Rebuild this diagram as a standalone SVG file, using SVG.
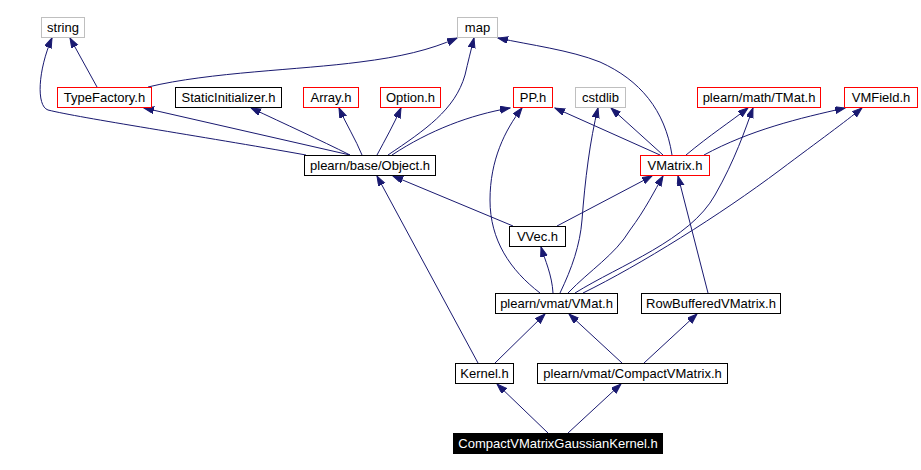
<svg xmlns="http://www.w3.org/2000/svg" width="921" height="470" viewBox="0 0 921 470">
<style>
.n rect{fill:#fff;stroke-width:1}
.n text{font-family:"Liberation Sans",Arial,sans-serif;font-size:13px;text-anchor:middle;fill:#000}
.g rect{stroke:#bfbfbf}
.r rect{stroke:#ff0000}
.b rect{stroke:#000}
.k rect{fill:#000;stroke:#000}
.k text{fill:#fff}
#edges path{fill:none;stroke:#191970;stroke-width:1;marker-end:url(#ah)}
</style>
<defs>
<marker id="ah" markerUnits="userSpaceOnUse" markerWidth="11" markerHeight="8" refX="10" refY="3.5" orient="auto">
<path d="M0,0 L10,3.5 L0,7 z" fill="#191970" stroke="#191970" stroke-width="1"/>
</marker>
</defs>
<rect width="921" height="470" fill="#fff"/>
<g id="edges">
<path d="M97,87 L70,38"/>
<path d="M306,155 C200,136 80,118 48,110 C36,106 38,70 52,38"/>
<path d="M148,87 C210,72 300,70 360,62 C400,57 430,50 457,38"/>
<path d="M350,155 L144,108"/>
<path d="M350,155 C320,140 285,124 251,108"/>
<path d="M362,155 C356,140 346,124 339,108"/>
<path d="M377,155 C385,140 394,124 401,108"/>
<path d="M388,155 C425,130 455,110 465,75 C468,62 471,50 474,38"/>
<path d="M392,155 C430,130 470,115 510,108"/>
<path d="M540,293 C510,270 490,240 490,200 C490,160 505,130 522,108"/>
<path d="M660,155 L555,108"/>
<path d="M663,155 L611,108"/>
<path d="M560,293 C572,268 580,245 582,220 C585,180 590,140 598,108"/>
<path d="M672,155 C665,110 640,80 600,62 C570,50 530,45 498,38"/>
<path d="M686,155 C710,135 730,122 748,108"/>
<path d="M575,293 C620,265 690,240 715,195 C735,160 745,130 753,108"/>
<path d="M704,155 C750,130 800,118 845,108"/>
<path d="M583,293 C640,265 720,215 780,170 C820,140 845,122 862,108"/>
<path d="M513,226 L393,176"/>
<path d="M478,363 L377,176"/>
<path d="M557,226 L652,176"/>
<path d="M568,293 C590,270 615,255 630,230 C645,210 655,190 663,176"/>
<path d="M708,293 L678,176"/>
<path d="M553,293 C552,275 545,260 541,247"/>
<path d="M495,363 L545,314"/>
<path d="M622,363 L569,314"/>
<path d="M644,363 L697,314"/>
<path d="M548,433 L497,384"/>
<path d="M568,433 L621,384"/>
</g>
<g id="string" class="n g"><rect x="41.5" y="17.5" width="43" height="20"/><text x="63" y="32">string</text></g>
<g id="map" class="n g"><rect x="457.5" y="17.5" width="40" height="20"/><text x="477.5" y="32">map</text></g>
<g id="TypeFactory" class="n r"><rect x="57.5" y="87.5" width="94" height="20"/><text x="104.5" y="102">TypeFactory.h</text></g>
<g id="StaticInitializer" class="n b"><rect x="175.5" y="87.5" width="106" height="20"/><text x="228.5" y="102">StaticInitializer.h</text></g>
<g id="Array" class="n r"><rect x="303.5" y="87.5" width="55" height="20"/><text x="331" y="102">Array.h</text></g>
<g id="Option" class="n r"><rect x="380.5" y="87.5" width="60" height="20"/><text x="410.5" y="102">Option.h</text></g>
<g id="PP" class="n r"><rect x="513.5" y="87.5" width="39" height="20"/><text x="533" y="102">PP.h</text></g>
<g id="cstdlib" class="n g"><rect x="575.5" y="87.5" width="50" height="20"/><text x="600.5" y="102">cstdlib</text></g>
<g id="TMat" class="n r"><rect x="697.5" y="87.5" width="123" height="20"/><text x="759" y="102">plearn/math/TMat.h</text></g>
<g id="VMField" class="n r"><rect x="844.5" y="87.5" width="73" height="20"/><text x="881" y="102">VMField.h</text></g>
<g id="Object" class="n b"><rect x="304.5" y="155.5" width="131" height="20"/><text x="370" y="170">plearn/base/Object.h</text></g>
<g id="VMatrix" class="n r"><rect x="640.5" y="155.5" width="69" height="20"/><text x="675" y="170">VMatrix.h</text></g>
<g id="VVec" class="n b"><rect x="509.5" y="226.5" width="56" height="20"/><text x="537.5" y="241">VVec.h</text></g>
<g id="VMat" class="n b"><rect x="495.5" y="293.5" width="122" height="20"/><text x="556.5" y="308">plearn/vmat/VMat.h</text></g>
<g id="RowBufferedVMatrix" class="n b"><rect x="641.5" y="293.5" width="139" height="20"/><text x="711" y="308">RowBufferedVMatrix.h</text></g>
<g id="Kernel" class="n b"><rect x="455.5" y="363.5" width="58" height="20"/><text x="484.5" y="378">Kernel.h</text></g>
<g id="CompactVMatrix" class="n b"><rect x="537.5" y="363.5" width="190" height="20"/><text x="632.5" y="378">plearn/vmat/CompactVMatrix.h</text></g>
<g id="CompactVMatrixGaussianKernel" class="n k"><rect x="453.5" y="433.5" width="209" height="20"/><text x="558" y="448">CompactVMatrixGaussianKernel.h</text></g>
</svg>
